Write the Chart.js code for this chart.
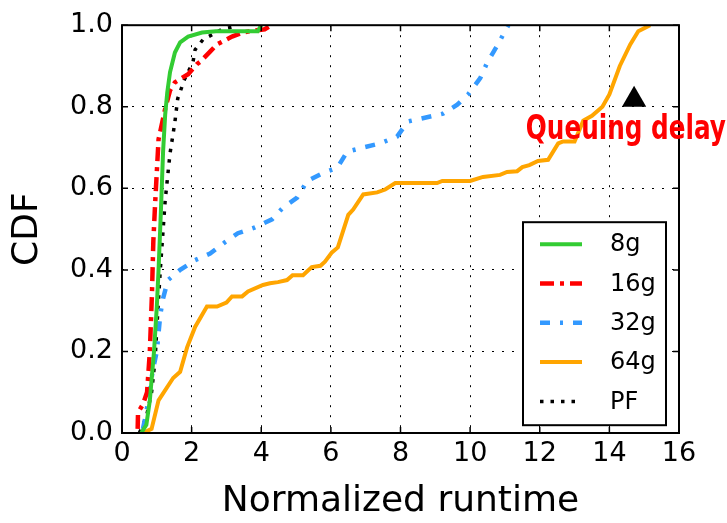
<!DOCTYPE html>
<html>
<head>
<meta charset="utf-8">
<script src="https://cdn.jsdelivr.net/npm/chart.js@4.4.0/dist/chart.umd.min.js"></script>
<style>
  body { margin: 0; background: #fff; }
</style>
</head>
<body>
<canvas id="cdf-chart" width="727" height="523"></canvas>

<script>
  // normalized runtime (x) and CDF (y)
  const runtime8g = [0.55, 0.7, 0.8, 0.92, 1.0, 1.05, 1.12, 1.18, 1.24, 1.3, 1.38, 1.52, 1.67, 1.9, 2.3, 2.7, 3.9, 4.0];
  const cdf8g     = [0.0, 0.02, 0.08, 0.2, 0.31, 0.4, 0.55, 0.69, 0.78, 0.835, 0.885, 0.933, 0.958, 0.972, 0.982, 0.985, 0.985, 1.0];

  const runtime16g = [0.45, 0.46, 0.6, 0.72, 0.8, 0.86, 0.9, 0.95, 1.0, 1.05, 1.24, 1.38, 1.52, 1.9, 2.16, 2.24, 2.53, 2.73, 3.16, 3.5, 4.1, 4.3];
  const cdf16g     = [0.01, 0.05, 0.07, 0.1, 0.2, 0.34, 0.47, 0.56, 0.64, 0.72, 0.795, 0.84, 0.86, 0.88, 0.905, 0.91, 0.935, 0.953, 0.972, 0.983, 0.99, 1.0];

  const runtime32g = [0.6, 0.7, 0.8, 0.9, 1.0, 1.1, 1.18, 1.32, 1.67, 2.1, 2.53, 2.96, 3.33, 3.82, 4.31, 4.63, 5.03, 5.32, 5.78, 6.18, 6.47, 6.93, 7.41, 7.9, 8.22, 8.7, 9.22, 9.63, 9.94, 10.29, 10.5, 10.78, 11.0, 11.1];
  const cdf32g     = [0.01, 0.05, 0.11, 0.16, 0.2, 0.29, 0.33, 0.375, 0.4, 0.424, 0.44, 0.468, 0.49, 0.504, 0.524, 0.553, 0.577, 0.618, 0.638, 0.65, 0.69, 0.7, 0.71, 0.727, 0.764, 0.773, 0.783, 0.805, 0.83, 0.87, 0.91, 0.95, 0.985, 1.0];

  const runtime64g = [0.6, 0.85, 1.05, 1.47, 1.67, 1.87, 2.1, 2.44, 2.73, 3.0, 3.16, 3.45, 3.62, 4.05, 4.25, 4.48, 4.74, 4.9, 5.2, 5.45, 5.7, 5.83, 6.03, 6.2, 6.5, 6.64, 6.93, 7.33, 7.56, 7.85, 9.05, 9.2, 10.0, 10.37, 10.86, 11.06, 11.35, 11.5, 11.7, 11.95, 12.24, 12.53, 12.67, 13.0, 13.25, 13.5, 13.8, 14.0, 14.3, 14.6, 14.83, 15.17];
  const cdf64g     = [0.0, 0.01, 0.08, 0.135, 0.15, 0.21, 0.26, 0.31, 0.31, 0.32, 0.335, 0.335, 0.347, 0.363, 0.367, 0.37, 0.375, 0.387, 0.387, 0.407, 0.41, 0.42, 0.443, 0.455, 0.535, 0.548, 0.585, 0.59, 0.597, 0.613, 0.613, 0.618, 0.618, 0.628, 0.633, 0.64, 0.642, 0.652, 0.657, 0.667, 0.67, 0.71, 0.715, 0.715, 0.766, 0.778, 0.8, 0.83, 0.9, 0.953, 0.985, 1.0];

  const runtimePF = [0.5, 0.7, 0.85, 0.95, 1.03, 1.1, 1.24, 1.38, 1.47, 1.52, 1.6, 1.8, 2.04, 2.1, 2.33, 2.6, 2.87, 3.16, 3.3];
  const cdfPF     = [0.0, 0.04, 0.1, 0.18, 0.3, 0.4, 0.57, 0.686, 0.735, 0.763, 0.82, 0.868, 0.91, 0.94, 0.965, 0.977, 0.99, 0.995, 1.0];

  const seriesNames = ['8g', '16g', '32g', '64g', 'PF'];
  const xTickValues = [0, 2, 4, 6, 8, 10, 12, 14, 16];
  const yTickValues = [0, 0.2, 0.4, 0.6, 0.8, 1.0];

  const noteText = 'Queuing delay';
  const noteAt = [11.6, 0.72];
  const markerAt = [14.71, 0.817];

  function toPoints(xs, ys) {
    return xs.map(function(x, i) { return {x: x, y: ys[i]}; });
  }

  function lineSet(label, xs, ys, color, width, dash) {
    return {
      type: 'line',
      label: label,
      data: toPoints(xs, ys),
      borderColor: color,
      backgroundColor: color,
      borderWidth: width,
      borderDash: dash,
      pointRadius: 0,
      tension: 0,
      fill: false,
    };
  }

  const datasets = [
    lineSet(seriesNames[0], runtime8g, cdf8g, '#33cc33', 4, []),
    lineSet(seriesNames[1], runtime16g, cdf16g, '#ff0000', 4.5, [14, 6, 4, 6]),
    lineSet(seriesNames[2], runtime32g, cdf32g, '#3399ff', 4.5, [10, 10, 3, 10]),
    lineSet(seriesNames[3], runtime64g, cdf64g, '#ffa500', 4, []),
    lineSet(seriesNames[4], runtimePF, cdfPF, '#000000', 3.5, [3.5, 7]),
    {
      type: 'scatter',
      label: 'marker',
      data: [{x: markerAt[0], y: markerAt[1]}],
      pointStyle: 'triangle',
      pointRadius: 14,
      backgroundColor: '#000',
      borderColor: '#000',
      borderWidth: 0,
      hideInLegend: true,
      clip: false,
    },
  ];

  // frame + inward tick marks, like matplotlib
  const framePlugin = {
    id: 'frame',
    afterDatasetsDraw(chart) {
      const ctx = chart.ctx;
      const a = chart.chartArea;
      const xs = chart.scales.x, ys = chart.scales.y;
      ctx.save();
      ctx.strokeStyle = '#000';
      ctx.lineWidth = 1.5;
      ctx.beginPath();
      xTickValues.forEach(function(v) {
        const px = xs.getPixelForValue(v);
        ctx.moveTo(px, a.bottom); ctx.lineTo(px, a.bottom - 6);
        ctx.moveTo(px, a.top); ctx.lineTo(px, a.top + 6);
      });
      yTickValues.forEach(function(v) {
        const py = ys.getPixelForValue(v);
        ctx.moveTo(a.left, py); ctx.lineTo(a.left + 6, py);
        ctx.moveTo(a.right, py); ctx.lineTo(a.right - 6, py);
      });
      ctx.stroke();
      ctx.lineWidth = 2;
      ctx.strokeRect(a.left, a.top, a.right - a.left, a.bottom - a.top);
      ctx.restore();
    }
  };

  const legendPlugin = {
    id: 'boxLegend',
    afterDatasetsDraw(chart) {
      const ctx = chart.ctx;
      const a = chart.chartArea;
      const left = a.right - 156, top = a.top + 197, w = 143, h = 203;
      ctx.save();
      ctx.fillStyle = '#fff';
      ctx.fillRect(left, top, w, h);
      ctx.strokeStyle = '#000';
      ctx.lineWidth = 2;
      ctx.strokeRect(left, top, w, h);
      ctx.font = '24px "DejaVu Sans"';
      ctx.textBaseline = 'middle';
      let row = 0;
      chart.data.datasets.forEach(function(ds) {
        if (ds.hideInLegend) return;
        const y = top + 22 + row * 39.3;
        ctx.strokeStyle = ds.borderColor;
        ctx.lineWidth = ds.borderWidth;
        ctx.setLineDash(ds.borderDash || []);
        ctx.beginPath();
        ctx.moveTo(left + 17, y);
        ctx.lineTo(left + 59, y);
        ctx.stroke();
        ctx.setLineDash([]);
        ctx.fillStyle = '#000';
        ctx.fillText(ds.label, left + 87, y + 1);
        row++;
      });
      ctx.restore();
    }
  };

  const notePlugin = {
    id: 'note',
    afterDraw(chart) {
      const ctx = chart.ctx;
      const px = chart.scales.x.getPixelForValue(noteAt[0]);
      const py = chart.scales.y.getPixelForValue(noteAt[1]);
      ctx.save();
      ctx.font = 'bold 33px "Liberation Sans Narrow", "DejaVu Sans Condensed", sans-serif';
      ctx.fillStyle = '#ff0000';
      ctx.textBaseline = 'alphabetic';
      const wid = ctx.measureText(noteText).width;
      ctx.translate(px, py);
      ctx.scale(200 / wid, 1);
      ctx.fillText(noteText, 0, 0);
      ctx.restore();
    }
  };

  const tickFont = {family: 'DejaVu Sans', size: 27};
  const titleFont = {family: 'DejaVu Sans', size: 36};

  new Chart(document.getElementById('cdf-chart'), {
    data: {datasets: datasets},
    options: {
      responsive: false,
      animation: false,
      events: [],
      layout: {padding: {top: 21, right: 48, left: 0, bottom: 0}},
      plugins: {legend: {display: false}, tooltip: {enabled: false}},
      scales: {
        x: {
          type: 'linear',
          min: 0,
          max: 16,
          afterFit: function(s) { s.height = 90; },
          afterBuildTicks: function(s) { s.ticks = xTickValues.map(function(v) { return {value: v}; }); },
          ticks: {font: tickFont, color: '#000', padding: 5, maxRotation: 0,
                  callback: function(v) { return String(v); }},
          grid: {color: '#000', lineWidth: 1, drawTicks: false},
          border: {display: false, dash: [2, 8]},
          title: {display: true, text: 'Normalized runtime', font: titleFont, color: '#000',
                  padding: {top: 0, bottom: 0}},
        },
        y: {
          type: 'linear',
          min: 0,
          max: 1,
          afterFit: function(s) { s.width = 122; },
          afterBuildTicks: function(s) { s.ticks = yTickValues.map(function(v) { return {value: v}; }); },
          ticks: {font: tickFont, color: '#000', padding: 9,
                  callback: function(v) { return Number(v).toFixed(1); }},
          grid: {color: '#000', lineWidth: 1, drawTicks: false},
          border: {display: false, dash: [2, 8]},
          title: {display: true, text: 'CDF', font: titleFont, color: '#000',
                  padding: {top: 6, bottom: 0}},
        },
      },
    },
    plugins: [framePlugin, legendPlugin, notePlugin],
  });
</script>
</body>
</html>
